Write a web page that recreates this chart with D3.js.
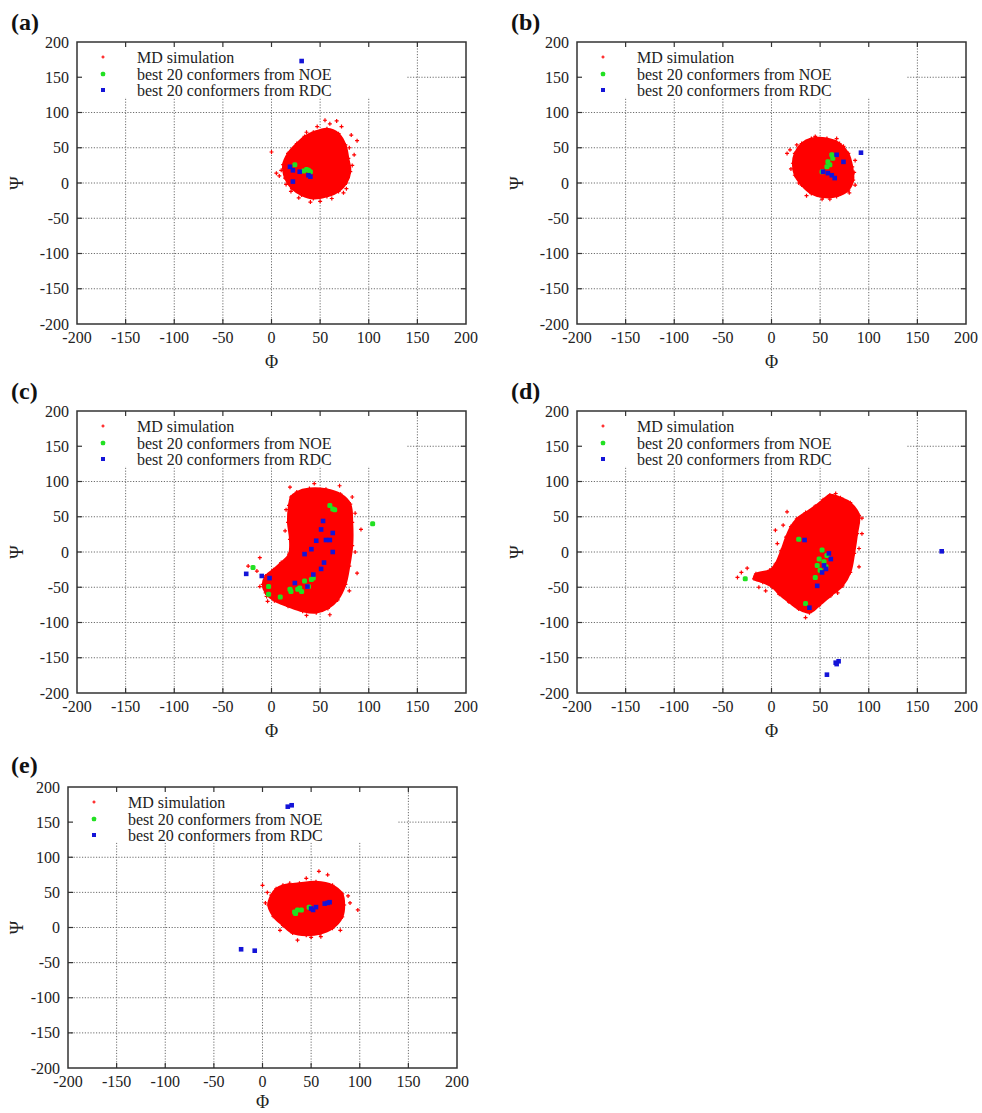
<!DOCTYPE html>
<html>
<head>
<meta charset="utf-8">
<script src="https://cdn.jsdelivr.net/npm/d3@7"></script>
<style>
  html, body { margin: 0; padding: 0; background: #fff; }
  svg { display: block; }
</style>
</head>
<body>
<svg id="chart" width="982" height="1113"></svg>
<script>
// ---------------- DATA ----------------
const phiTicks = [-200, -150, -100, -50, 0, 50, 100, 150, 200];
const psiTicks = [-200, -150, -100, -50, 0, 50, 100, 150, 200];
const panelLabels = ["(a)", "(b)", "(c)", "(d)", "(e)"];
const legendLabels = ["MD simulation", "best 20 conformers from NOE", "best 20 conformers from RDC"];
const xTitle = "Φ";
const yTitle = "Ψ";

// MD simulation: dense region outline (Φ, Ψ) and scattered edge points
const mdCloudA = [[43,72],[57,77],[69,70],[76,54],[79,35],[81,16],[77,0],[69,-12],[57,-19],[43,-22],[31,-17],[21,-8],[14,7],[12,26],[17,42],[26,56],[34,66]];
const mdScatterA = [[0,44],[55,89],[67,88],[82,68],[88,60],[40,-27],[50,-26],[62,-22],[28,-21],[10,18],[8,10],[77,-8],[85,40],[72,80],[47,80],[15,-2],[60,84],[83,25],[5,14],[20,-12],[74,-14],[36,72],[80,50]];
const noeA = [[24,26],[38,18],[40,16],[33,17],[36,19]];
const rdcA = [[19,23],[22,18],[29,16],[38,11],[40,9],[22,2],[31,173]];

const mdCloudB = [[41,63],[57,63],[70,56],[79,42],[83,23],[84,4],[79,-10],[67,-19],[53,-20],[41,-15],[31,-3],[24,11],[22,28],[24,42],[31,56]];
const mdScatterB = [[16,42],[19,47],[26,54],[67,63],[74,52],[86,-3],[60,-23],[52,-23],[28,0],[45,66],[85,15],[36,-18],[20,20],[80,-14],[86,32]];
const noeB = [[62,40],[58,30],[57,23],[52,16],[63,35],[60,26]];
const rdcB = [[67,40],[74,30],[53,16],[62,11],[65,7],[58,14],[92,43]];

const mdCloudC = [[26,85],[39,90],[56,89],[71,82],[81,68],[83,42],[83,9],[80,-20],[76,-46],[68,-68],[58,-80],[46,-86],[32,-84],[17,-77],[3,-69],[-6,-58],[-9,-46],[-6,-34],[2,-25],[10,-15],[18,-3],[19,18],[17,42],[18,66],[20,78]];
const mdScatterC = [[-12,-8],[-24,-20],[92,32],[88,-30],[44,97],[70,94],[83,78],[19,92],[-12,-49],[-5,-63],[60,-89],[36,-90],[9,-18],[-15,-27],[86,55],[14,30],[15,60],[86,0],[80,-55],[-4,-70]];
const noeC = [[60,66],[63,61],[65,60],[104,40],[-19,-22],[-3,-49],[-3,-60],[9,-64],[19,-53],[20,-56],[27,-53],[31,-56],[34,-41],[41,-39],[43,-37],[38,-49],[29,-51]];
const rdcC = [[53,44],[51,32],[63,27],[56,17],[60,17],[46,16],[41,4],[63,0],[34,-3],[54,-15],[51,-24],[43,-32],[24,-44],[37,-49],[-2,-37],[-10,-34],[-26,-31]];

const mdCloudD = [[60,81],[71,77],[81,70],[90,52],[88,26],[85,-2],[81,-29],[73,-48],[61,-62],[49,-76],[39,-86],[28,-81],[18,-71],[8,-60],[1,-50],[-9,-43],[-18,-38],[-16,-31],[-2,-26],[4,-17],[10,2],[15,21],[20,36],[26,47],[35,56],[45,65],[53,74]];
const mdScatterD = [[16,57],[6,12],[-25,-23],[-35,-36],[-31,-29],[93,48],[93,26],[66,83],[74,74],[35,-93],[-13,-50],[-6,-55],[90,-21],[4,31],[12,38],[90,5],[68,-58],[-8,-32]];
const noeD = [[28,18],[-27,-38],[52,3],[49,-10],[47,-19],[50,-26],[45,-36],[54,-14],[56,-21],[35,-73],[57,-5]];
const rdcD = [[34,17],[59,-2],[61,-10],[54,-19],[56,-24],[52,-29],[47,-48],[39,-79],[175,1],[66,-157],[69,-155],[67,-159],[57,-174]];

const mdCloudE = [[21,60],[38,63],[55,65],[72,60],[82,48],[84,32],[82,15],[72,-1],[59,-9],[45,-11],[31,-8],[21,3],[11,16],[6,32],[9,46],[14,55]];
const mdScatterE = [[0,60],[5,50],[98,25],[36,-18],[60,-13],[28,63],[45,70],[58,80],[67,75],[90,35],[3,35],[50,-14],[80,-4],[88,45],[18,-4]];
const noeE = [[33,22],[36,25],[40,25],[34,20],[48,29]];
const rdcE = [[50,27],[52,25],[55,29],[64,34],[67,35],[69,36],[-22,-31],[-8,-33],[26,172],[30,174]];

// ---------------- LAYOUT ----------------
const panels = [
  {label: panelLabels[0], x0: 77,  x1: 466, y0: 42,  y1: 324, cloud: mdCloudA, scatter: mdScatterA, noe: noeA, rdc: rdcA},
  {label: panelLabels[1], x0: 577, x1: 966, y0: 42,  y1: 324, cloud: mdCloudB, scatter: mdScatterB, noe: noeB, rdc: rdcB},
  {label: panelLabels[2], x0: 77,  x1: 466, y0: 411, y1: 693, cloud: mdCloudC, scatter: mdScatterC, noe: noeC, rdc: rdcC},
  {label: panelLabels[3], x0: 577, x1: 966, y0: 411, y1: 693, cloud: mdCloudD, scatter: mdScatterD, noe: noeD, rdc: rdcD},
  {label: panelLabels[4], x0: 68,  x1: 457, y0: 787, y1: 1068, cloud: mdCloudE, scatter: mdScatterE, noe: noeE, rdc: rdcE}
];

const RED = "#ff0000", GREEN = "#22e022", BLUE = "#1414d8";
const FONT = "'Liberation Serif', 'Times New Roman', serif";
const svg = d3.select("#chart");

function plus(g, x, y, r, color) {
  g.append("path")
    .attr("d", `M${x - r},${y}H${x + r}M${x},${y - r}V${y + r}`)
    .attr("stroke", color).attr("stroke-width", 1.2).attr("fill", "none");
}

panels.forEach((p, i) => {
  const x = d3.scaleLinear().domain([-200, 200]).range([p.x0, p.x1]);
  const y = d3.scaleLinear().domain([-200, 200]).range([p.y1, p.y0]);
  const g = svg.append("g");

  // grid
  const grid = g.append("g").attr("stroke", "#6e6e6e").attr("stroke-width", 1).attr("stroke-dasharray", "1.2,1.6");
  phiTicks.slice(1, -1).forEach(t => {
    grid.append("line").attr("x1", x(t)).attr("x2", x(t)).attr("y1", y(-200)).attr("y2", y(200));
  });
  psiTicks.slice(1, -1).forEach(t => {
    grid.append("line").attr("x1", x(-200)).attr("x2", x(200)).attr("y1", y(t)).attr("y2", y(t));
  });

  // legend box (opaque key background)
  g.append("rect").attr("x", p.x0 + 1).attr("y", p.y0 + 1)
    .attr("width", x(139) - p.x0 - 1).attr("height", y(121) - p.y0 - 1)
    .attr("fill", "#fff");

  // MD cloud
  const line = d3.line().x(d => x(d[0])).y(d => y(d[1])).curve(d3.curveCatmullRomClosed.alpha(0.5));
  g.append("path").datum(p.cloud).attr("d", line)
    .attr("fill", RED).attr("stroke", RED).attr("stroke-width", 2);
  p.cloud.forEach(d => plus(g, x(d[0]), y(d[1]), 2, RED));
  p.scatter.forEach(d => plus(g, x(d[0]), y(d[1]), 2, RED));

  // NOE
  g.selectAll(null).data(p.noe).enter().append("rect")
    .attr("x", d => x(d[0]) - 2.5).attr("y", d => y(d[1]) - 2.5)
    .attr("width", 5).attr("height", 5).attr("rx", 1.5).attr("fill", GREEN);
  // RDC
  g.selectAll(null).data(p.rdc).enter().append("rect")
    .attr("x", d => x(d[0]) - 2.3).attr("y", d => y(d[1]) - 2.3)
    .attr("width", 4.6).attr("height", 4.6).attr("fill", BLUE);

  // frame
  g.append("rect").attr("x", p.x0).attr("y", p.y0)
    .attr("width", p.x1 - p.x0).attr("height", p.y1 - p.y0)
    .attr("fill", "none").attr("stroke", "#333").attr("stroke-width", 1.5);

  // ticks (inward, mirrored)
  const tk = g.append("g").attr("stroke", "#333").attr("stroke-width", 1.2);
  phiTicks.slice(1, -1).forEach(t => {
    tk.append("line").attr("x1", x(t)).attr("x2", x(t)).attr("y1", p.y1).attr("y2", p.y1 - 5);
    tk.append("line").attr("x1", x(t)).attr("x2", x(t)).attr("y1", p.y0).attr("y2", p.y0 + 5);
  });
  psiTicks.slice(1, -1).forEach(t => {
    tk.append("line").attr("x1", p.x0).attr("x2", p.x0 + 5).attr("y1", y(t)).attr("y2", y(t));
    tk.append("line").attr("x1", p.x1).attr("x2", p.x1 - 5).attr("y1", y(t)).attr("y2", y(t));
  });

  // tick labels
  const tl = g.append("g").attr("font-family", FONT).attr("font-size", 16).attr("fill", "#222");
  phiTicks.forEach(t => {
    tl.append("text").attr("x", x(t)).attr("y", p.y1 + 19).attr("text-anchor", "middle").text(t);
  });
  psiTicks.forEach(t => {
    tl.append("text").attr("x", p.x0 - 8).attr("y", y(t) + 5.5).attr("text-anchor", "end").text(t);
  });

  // axis titles
  g.append("text").attr("x", (p.x0 + p.x1) / 2).attr("y", p.y1 + (i === 4 ? 40 : 44))
    .attr("text-anchor", "middle").attr("font-family", FONT).attr("font-size", 18).attr("fill", "#222").text(xTitle);
  const yx = p.x0 - (i === 4 ? 51 : 60);
  g.append("text").attr("transform", `translate(${yx},${y(0)}) rotate(-90)`)
    .attr("text-anchor", "middle").attr("dy", "0.35em").attr("font-family", FONT).attr("font-size", 18).attr("fill", "#222").text(yTitle);

  // panel label
  g.append("text").attr("x", p.x0 - 66 + (i === 4 ? 9 : 0)).attr("y", p.y0 - (i === 4 ? 14 : 12))
    .attr("font-family", FONT).attr("font-weight", "bold").attr("font-size", 24).attr("fill", "#111").text(p.label);

  // legend
  const lg = g.append("g").attr("font-family", FONT).attr("font-size", 16).attr("fill", "#222");
  const rowY = [15, 32, 48];
  const mx = p.x0 + 26, tx = p.x0 + 60;
  plus(lg, mx, p.y0 + rowY[0], 1.6, RED);
  lg.append("rect").attr("x", mx - 2.2).attr("y", p.y0 + rowY[1] - 2.2).attr("width", 4.4).attr("height", 4.4).attr("rx", 1.5).attr("fill", GREEN);
  lg.append("rect").attr("x", mx - 2).attr("y", p.y0 + rowY[2] - 2).attr("width", 4).attr("height", 4).attr("fill", BLUE);
  legendLabels.forEach((t, k) => {
    lg.append("text").attr("x", tx).attr("y", p.y0 + rowY[k] + 5.5).text(t);
  });
});
</script>
</body>
</html>
